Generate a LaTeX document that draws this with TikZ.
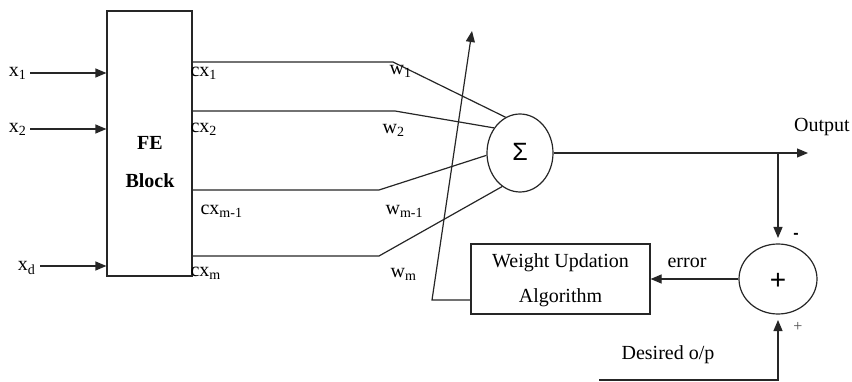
\documentclass[tikz,border=0pt]{standalone}
\usepackage{fontspec}
\setmainfont{Liberation Serif}
\newfontfamily\sansf{Liberation Sans}
\usetikzlibrary{arrows.meta,shapes.geometric}
\begin{document}
\begin{tikzpicture}[x=1pt,y=-1pt,line width=1.2pt,draw=black!85,
  >={Triangle[length=11pt,width=9pt]},
  lbl/.style={inner sep=0pt,font=\fontsize{20}{24}\selectfont},
  blk/.style={draw,rectangle,inner sep=0pt},
  sumnode/.style={draw,ellipse,inner sep=0pt}]
\useasboundingbox (0,0) rectangle (852,382);
% FE block
\node[blk,minimum width=85pt,minimum height=265pt] (fe) at (149.5,143.5) {};
\node[lbl,font=\fontsize{20}{24}\selectfont\bfseries] (fet) at (150,143) {FE};
\node[lbl,font=\fontsize{20}{24}\selectfont\bfseries] (feb) at (150,181) {Block};
% inputs
\coordinate (i1) at (30,73);
\coordinate (i2) at (30,129);
\coordinate (id) at (40,266);
\draw[->] (i1) -- (fe.west |- i1);
\draw[->] (i2) -- (fe.west |- i2);
\draw[->] (id) -- (fe.west |- id);
\node[lbl,anchor=east] (lx1) at (27,73) {x\textsubscript{1}};
\node[lbl,anchor=east] (lx2) at (27,129) {x\textsubscript{2}};
\node[lbl,anchor=east] (lxd) at (36,268) {x\textsubscript{d}};
% sum node
\node[sumnode,minimum width=66pt,minimum height=78pt] (sig) at (520,153) {};
\node[inner sep=0pt,font=\sansf\fontsize{25}{28}\selectfont] (sigt) at (520,152) {Σ};
% weighted lines
\coordinate (b1) at (393,62);
\coordinate (b2) at (395,111);
\coordinate (b3) at (379,190);
\coordinate (b4) at (379,256);
\draw (fe.east |- b1) -- (b1) -- (sig.112);
\draw (fe.east |- b2) -- (b2) -- (sig.136);
\draw (fe.east |- b3) -- (b3) -- (sig.184);
\draw (fe.east |- b4) -- (b4) -- (sig.242);
\node[lbl,anchor=west] (lc1) at (190,73) {cx\textsubscript{1}};
\node[lbl,anchor=west] (lc2) at (190,129) {cx\textsubscript{2}};
\node[lbl,anchor=west] (lc3) at (200,211) {cx\textsubscript{m-1}};
\node[lbl,anchor=west] (lc4) at (190,273) {cx\textsubscript{m}};
\node[lbl,anchor=west] (lw1) at (389,71) {w\textsubscript{1}};
\node[lbl,anchor=west] (lw2) at (382,130) {w\textsubscript{2}};
\node[lbl,anchor=west] (lw3) at (385,211) {w\textsubscript{m-1}};
\node[lbl,anchor=west] (lw4) at (390,274) {w\textsubscript{m}};
% output
\coordinate (out) at (808,153);
\coordinate (br) at (778,153);
\draw[->] (sig.east) -- (out);
\node[lbl] (lout) at (822,127) {Output};
% plus node
\node[sumnode,minimum width=78pt,minimum height=70pt] (pl) at (778,279) {};
\node[inner sep=0pt,font=\sansf\fontsize{28}{30}\selectfont] (plt) at (778,281) {+};
\coordinate (mtip) at (778,238);
\draw[->] (br) -- (mtip);
\node[inner sep=0pt,font=\sansf\bfseries\fontsize{16}{18}\selectfont] (lminus) at (796,236) {-};
\node[inner sep=0pt,font=\fontsize{16}{18}\selectfont,text=black!70] (lplus) at (798,327) {+};
% weight update box
\node[blk,minimum width=179pt,minimum height=70pt] (wb) at (560.5,279) {};
\node[lbl] (wbt1) at (560.5,263) {Weight Updation};
\node[lbl] (wbt2) at (560.5,298) {Algorithm};
\draw[->] (pl.west) -- (wb.east);
\node[lbl] (lerr) at (687,263) {error};
% adaptation arrow
\coordinate (a1) at (432,300);
\coordinate (atop) at (472,31);
\draw[->] (wb.west |- a1) -- (a1) -- (atop);
% desired
\coordinate (d0) at (599,380);
\coordinate (ptip) at (778,320);
\draw[->] (d0) -- (d0 -| pl) -- (ptip);
\node[lbl] (ldes) at (668,355) {Desired o/p};
\end{tikzpicture}
\end{document}
